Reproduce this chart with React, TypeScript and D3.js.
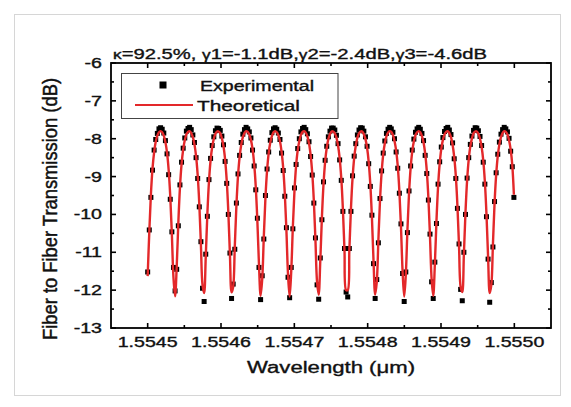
import React from 'react';
import * as d3 from 'd3';

const W = 571;
const H = 407;

// Axis definitions
const X_DOMAIN = [1.55445, 1.55505];
const Y_DOMAIN = [-13, -6];
const X_TICKS = [1.5545, 1.5546, 1.5547, 1.5548, 1.5549, 1.555];
const X_MINOR = [1.55455, 1.55465, 1.55475, 1.55485, 1.55495];
const Y_TICKS = [-13, -12, -11, -10, -9, -8, -7, -6];
const Y_MINOR = [-12.5, -11.5, -10.5, -9.5, -8.5, -7.5, -6.5];

// Sampling grid (µm): uniformly sampled spectrum
const WL_START = 1.5545;
const WL_STEP = 0.0000022;

// Experimental transmission (dB)
const EXPERIMENTAL = [
  -11.52, -10.41, -9.55, -8.83, -8.30, -8.02, -7.86, -7.74, -7.71, -7.75, -7.85, -8.05, -8.40, -8.95, -9.60, -10.46, -11.40,
  -12.02, -11.45, -10.30, -9.22, -8.62, -8.25, -7.98, -7.80, -7.73, -7.70, -7.76, -7.90, -8.10, -8.50, -9.05, -9.80, -10.72, -11.95,
  -12.30, -11.05, -10.05, -9.08, -8.52, -8.18, -7.95, -7.79, -7.72, -7.73, -7.78, -7.93, -8.16, -8.60, -9.18, -10.00, -11.02,
  -12.22, -11.84, -10.92, -9.70, -8.93, -8.44, -8.10, -7.88, -7.76, -7.70, -7.74, -7.82, -7.98, -8.30, -8.72, -9.35, -10.10, -11.40,
  -12.25, -11.62, -10.65, -9.50, -8.80, -8.35, -8.04, -7.84, -7.74, -7.71, -7.75, -7.85, -8.02, -8.38, -8.84, -9.52, -10.35, -11.66,
  -12.20, -11.40, -10.38, -9.30, -8.68, -8.26, -8.00, -7.82, -7.73, -7.70, -7.76, -7.87, -8.08, -8.47, -8.96, -9.70, -10.62, -11.86,
  -12.24, -11.15, -10.14, -9.14, -8.57, -8.20, -7.95, -7.80, -7.72, -7.72, -7.77, -7.91, -8.13, -8.56, -9.10, -9.92, -10.90, -12.05,
  -12.18, -10.90, -9.92, -8.98, -8.46, -8.13, -7.90, -7.77, -7.71, -7.72, -7.80, -7.95, -8.20, -8.66, -9.26, -10.02, -11.30,
  -12.22, -11.72, -10.75, -9.58, -8.85, -8.38, -8.06, -7.86, -7.75, -7.70, -7.74, -7.83, -8.00, -8.35, -8.78, -9.44, -10.25, -11.56,
  -12.30, -11.52, -10.48, -9.38, -8.72, -8.30, -8.01, -7.83, -7.74, -7.70, -7.75, -7.86, -8.05, -8.44, -8.92, -9.62, -10.52, -11.78,
  -12.22, -11.26, -10.24, -9.20, -8.61, -8.22, -7.97, -7.81, -7.73, -7.70, -7.77, -7.89, -8.11, -8.53, -9.05, -9.84, -10.78, -11.98,
  -12.28, -11.00, -10.00, -9.04, -8.50, -8.15, -7.93, -7.78, -7.71, -7.72, -7.79, -7.94, -8.18, -8.62, -9.20, -10.06, -11.18,
  -12.32, -11.80, -10.86, -9.66, -8.90, -8.41, -8.09, -7.88, -7.76, -7.70, -7.74, -7.82, -7.99, -8.33, -8.74, -9.55,
];

// Theoretical transmission (dB)
const THEORETICAL = [
  -11.63, -10.48, -9.48, -8.79, -8.36, -8.08, -7.92, -7.83, -7.80, -7.83, -7.92, -8.09, -8.37, -8.82, -9.52, -10.53, -11.67,
  -12.16, -11.38, -10.23, -9.30, -8.68, -8.29, -8.04, -7.89, -7.82, -7.80, -7.85, -7.96, -8.15, -8.46, -8.96, -9.72, -10.80, -11.87,
  -12.08, -11.12, -9.99, -9.13, -8.57, -8.22, -8.00, -7.87, -7.81, -7.81, -7.86, -7.99, -8.20, -8.55, -9.10, -9.94, -11.07,
  -12.06, -11.91, -10.85, -9.77, -8.98, -8.48, -8.16, -7.96, -7.85, -7.80, -7.82, -7.89, -8.03, -8.27, -8.66, -9.27, -10.18, -11.33,
  -12.15, -11.71, -10.58, -9.56, -8.85, -8.39, -8.10, -7.93, -7.83, -7.80, -7.83, -7.91, -8.07, -8.34, -8.77, -9.44, -10.42, -11.59,
  -12.17, -11.49, -10.32, -9.37, -8.72, -8.31, -8.06, -7.90, -7.82, -7.80, -7.84, -7.94, -8.12, -8.43, -8.90, -9.64, -10.69, -11.79,
  -12.12, -11.22, -10.08, -9.20, -8.61, -8.24, -8.01, -7.88, -7.81, -7.81, -7.86, -7.97, -8.18, -8.51, -9.04, -9.85, -10.96, -12.00,
  -12.00, -10.96, -9.85, -9.04, -8.51, -8.18, -7.97, -7.86, -7.81, -7.81, -7.88, -8.01, -8.24, -8.61, -9.20, -10.08, -11.23,
  -12.12, -11.79, -10.69, -9.64, -8.90, -8.42, -8.12, -7.94, -7.84, -7.80, -7.82, -7.90, -8.06, -8.31, -8.72, -9.37, -10.32, -11.49,
  -12.17, -11.59, -10.42, -9.44, -8.77, -8.34, -8.07, -7.91, -7.83, -7.80, -7.83, -7.93, -8.10, -8.39, -8.85, -9.56, -10.59, -11.71,
  -12.15, -11.33, -10.18, -9.27, -8.66, -8.27, -8.03, -7.89, -7.82, -7.80, -7.85, -7.96, -8.16, -8.48, -8.98, -9.77, -10.85, -11.92,
  -12.05, -11.06, -9.94, -9.10, -8.55, -8.20, -7.99, -7.86, -7.81, -7.81, -7.87, -8.00, -8.22, -8.57, -9.13, -9.99, -11.12,
  -12.08, -11.87, -10.80, -9.72, -8.96, -8.46, -8.15, -7.96, -7.85, -7.80, -7.82, -7.89, -8.04, -8.29, -8.70, -9.48,
];

const SERIES_NAMES = ['Experimental', 'Theoretical'];
const X_LABEL = 'Wavelength (\u03bcm)';
const Y_LABEL = 'Fiber to Fiber Transmission (dB)';

const FONT = '"Liberation Sans", Arial, Helvetica, sans-serif';
const RED = '#e3282a';
const INK = '#111';

export default function App() {
  const left = 111, right = 551, top = 63, bottom = 328;
  const x = d3.scaleLinear().domain(X_DOMAIN).range([left, right]);
  const y = d3.scaleLinear().domain(Y_DOMAIN).range([bottom, top]);

  const wl = d3.range(EXPERIMENTAL.length).map((i) => WL_START + i * WL_STEP);
  const expPts = EXPERIMENTAL.map((v, i) => ({ wl: wl[i], v }));
  const thPts = THEORETICAL.map((v, i) => ({ wl: wl[i], v }));

  const line = d3
    .line<{ wl: number; v: number }>()
    .x((d) => x(d.wl))
    .y((d) => y(d.v))
    .curve(d3.curveCatmullRom.alpha(0.5));

  const fmtX = d3.format('.4f');
  const MAJ = 5, MIN = 3;
  const SQ = 5;
  const sx = 1.4;
  const textStroke = { stroke: INK, strokeWidth: 0.35 };

  return (
    <svg
      width={W}
      height={H}
      style={{ position: 'absolute', left: 0, top: 0, background: '#fff' }}
      fontFamily={FONT}
    >
      <rect x={0} y={0} width={W} height={H} fill="#fff" />
      <rect x={14.5} y={14.5} width={546} height={381} fill="none" stroke="#d6d6d6" strokeWidth={1} />

      {/* Title */}
      <text x={113} y={59} fontSize={14} textLength={374} lengthAdjust="spacingAndGlyphs" fill={INK} {...textStroke}>
        <tspan fontSize={12}>{'\u03ba'}</tspan>
        <tspan>{'=92.5%, '}</tspan>
        <tspan fontSize={12}>{'\u03b3'}</tspan>
        <tspan>{'1=-1.1dB,'}</tspan>
        <tspan fontSize={12}>{'\u03b3'}</tspan>
        <tspan>{'2=-2.4dB,'}</tspan>
        <tspan fontSize={12}>{'\u03b3'}</tspan>
        <tspan>{'3=-4.6dB'}</tspan>
      </text>

      {/* Data squares */}
      <g fill="#000">
        {expPts.map((d, i) => (
          <rect key={i} x={x(d.wl) - SQ / 2} y={y(d.v) - SQ / 2} width={SQ} height={SQ} />
        ))}
      </g>
      {/* Theoretical line */}
      <path d={line(thPts) || ''} fill="none" stroke={RED} strokeWidth={2.4} strokeLinejoin="round" />

      {/* Frame */}
      <rect x={left} y={top} width={right - left} height={bottom - top} fill="none" stroke="#000" strokeWidth={1.8} />

      {/* Ticks */}
      <g stroke="#000" strokeWidth={1.6}>
        {X_TICKS.map((t) => (
          <g key={'xt' + t}>
            <line x1={x(t)} x2={x(t)} y1={bottom} y2={bottom - MAJ} />
            <line x1={x(t)} x2={x(t)} y1={top} y2={top + MAJ} />
          </g>
        ))}
        {X_MINOR.map((t) => (
          <g key={'xm' + t}>
            <line x1={x(t)} x2={x(t)} y1={bottom} y2={bottom - MIN} />
            <line x1={x(t)} x2={x(t)} y1={top} y2={top + MIN} />
          </g>
        ))}
        {Y_TICKS.map((t) => (
          <g key={'yt' + t}>
            <line x1={left} x2={left + MAJ} y1={y(t)} y2={y(t)} />
            <line x1={right} x2={right - MAJ} y1={y(t)} y2={y(t)} />
          </g>
        ))}
        {Y_MINOR.map((t) => (
          <g key={'ym' + t}>
            <line x1={left} x2={left + MIN} y1={y(t)} y2={y(t)} />
            <line x1={right} x2={right - MIN} y1={y(t)} y2={y(t)} />
          </g>
        ))}
      </g>

      {/* X tick labels */}
      {X_TICKS.map((t) => (
        <g key={'xl' + t} transform={`translate(${x(t)},347) scale(${sx},1)`}>
          <text x={0} y={0} fontSize={14} textAnchor="middle" fill={INK} {...textStroke}>
            {fmtX(t)}
          </text>
        </g>
      ))}

      {/* Y tick labels */}
      {Y_TICKS.map((t) => (
        <g key={'yl' + t} transform={`translate(102,${y(t) + 5}) scale(${sx},1)`}>
          <text x={0} y={0} fontSize={14} textAnchor="end" fill={INK} {...textStroke}>
            {String(t)}
          </text>
        </g>
      ))}

      {/* Axis titles */}
      <text x={331} y={373} fontSize={16} textAnchor="middle" textLength={168} lengthAdjust="spacingAndGlyphs" fill={INK} {...textStroke}>
        {X_LABEL}
      </text>
      <g transform={`translate(56.5,209) rotate(-90) scale(1,1.4)`}>
        <text x={0} y={0} fontSize={15} textAnchor="middle" textLength={262} lengthAdjust="spacingAndGlyphs" fill={INK} {...textStroke}>
          {Y_LABEL}
        </text>
      </g>

      {/* Legend */}
      <rect x={121.5} y={73.5} width={216.5} height={45} fill="#fff" stroke="#444" strokeWidth={1} />
      <rect x={163 - 3.5} y={85 - 3.5} width={7} height={7} fill="#000" />
      <text x={200} y={91} fontSize={14} textLength={114} lengthAdjust="spacingAndGlyphs" fill={INK} {...textStroke}>
        {SERIES_NAMES[0]}
      </text>
      <line x1={135} x2={193} y1={105} y2={105} stroke={RED} strokeWidth={2.2} />
      <text x={197} y={110.5} fontSize={14} textLength={103} lengthAdjust="spacingAndGlyphs" fill={INK} {...textStroke}>
        {SERIES_NAMES[1]}
      </text>
    </svg>
  );
}
